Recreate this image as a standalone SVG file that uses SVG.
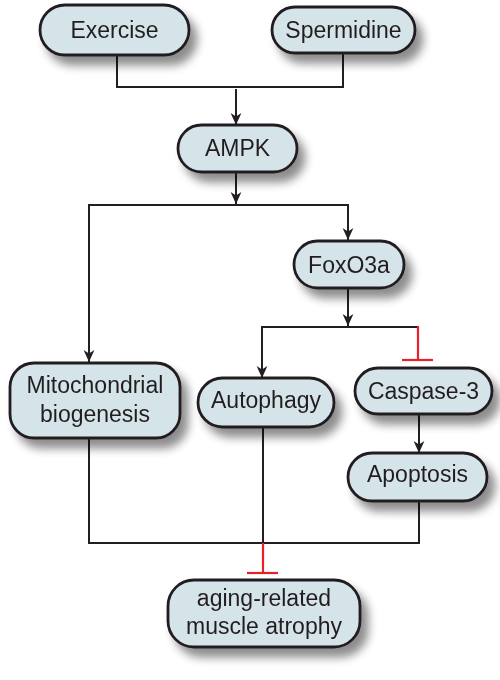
<svg xmlns="http://www.w3.org/2000/svg" width="500" height="680" viewBox="0 0 500 680">
<defs>
<filter id="sh" x="-20%" y="-30%" width="150%" height="180%">
<feGaussianBlur in="SourceAlpha" stdDeviation="5"/>
<feOffset dx="7" dy="9" result="b"/>
<feComponentTransfer><feFuncA type="linear" slope="0.45"/></feComponentTransfer>
<feMerge><feMergeNode/><feMergeNode in="SourceGraphic"/></feMerge>
</filter>
<marker id="arr" markerUnits="userSpaceOnUse" markerWidth="12" markerHeight="12" refX="10" refY="5" orient="auto" viewBox="0 0 10 10">
<path d="M0,0.5 L10,5 L0,9.5 L3,5 z" fill="#231f20"/>
</marker>
</defs>
<style>
.box{fill:#d5e4e9;stroke:#231f20;stroke-width:2.8}
.t{font-family:"Liberation Sans",Arial,sans-serif;font-size:23px;fill:#231f20;text-anchor:middle}
.c{fill:none;stroke:#231f20;stroke-width:2}
.r{fill:none;stroke:#e8202a;stroke-width:2.2}
</style>
<rect width="500" height="680" fill="#fff"/>
<g id="connectors">
<polyline class="c" points="117,55 117,87 343,87 343,53"/>
<line class="c" x1="236" y1="89" x2="236" y2="125" marker-end="url(#arr)"/>
<line class="c" x1="236" y1="172" x2="236" y2="204" marker-end="url(#arr)"/>
<polyline class="c" points="89,362 89,205 348,205 348,240" marker-end="url(#arr)"/>
<line class="c" x1="89" y1="205" x2="89" y2="362" marker-end="url(#arr)"/>
<line class="c" x1="348" y1="288" x2="348" y2="326" marker-end="url(#arr)"/>
<polyline class="c" points="418,327 262,327 262,378" marker-end="url(#arr)"/>
<line class="r" x1="418" y1="326" x2="418" y2="360"/>
<line class="r" x1="402" y1="360" x2="433" y2="360"/>
<line class="c" x1="419" y1="414" x2="419" y2="453" marker-end="url(#arr)"/>
<polyline class="c" points="89,438 89,543 419,543 419,501"/>
<line class="c" x1="263" y1="427" x2="263" y2="543"/>
<line class="r" x1="263" y1="543" x2="263" y2="573"/>
<line class="r" x1="247" y1="573" x2="278" y2="573"/>
</g>
<g id="exercise" filter="url(#sh)">
<rect class="box" x="40" y="5" width="149" height="50" rx="25"/>
<text class="t" x="114.5" y="38">Exercise</text>
</g>
<g id="spermidine" filter="url(#sh)">
<rect class="box" x="272" y="7" width="143" height="46" rx="23"/>
<text class="t" x="343.5" y="38">Spermidine</text>
</g>
<g id="ampk" filter="url(#sh)">
<rect class="box" x="178" y="125" width="119" height="47" rx="23.5"/>
<text class="t" x="237.5" y="156">AMPK</text>
</g>
<g id="foxo3a" filter="url(#sh)">
<rect class="box" x="294" y="241" width="110" height="47" rx="23.5"/>
<text class="t" x="349" y="273">FoxO3a</text>
</g>
<g id="mito" filter="url(#sh)">
<rect class="box" x="10" y="363" width="170" height="75" rx="24"/>
<text class="t" x="95" y="393">Mitochondrial</text>
<text class="t" x="95" y="422">biogenesis</text>
</g>
<g id="autophagy" filter="url(#sh)">
<rect class="box" x="198" y="378" width="136" height="49" rx="24.5"/>
<text class="t" x="266" y="408">Autophagy</text>
</g>
<g id="caspase3" filter="url(#sh)">
<rect class="box" x="355" y="368" width="137" height="46" rx="23"/>
<text class="t" x="423.5" y="399">Caspase-3</text>
</g>
<g id="apoptosis" filter="url(#sh)">
<rect class="box" x="348" y="453" width="139" height="48" rx="24"/>
<text class="t" x="417.5" y="482">Apoptosis</text>
</g>
<g id="atrophy" filter="url(#sh)">
<rect class="box" x="168" y="580" width="192" height="67" rx="26"/>
<text class="t" x="264" y="606">aging-related</text>
<text class="t" x="264" y="634">muscle atrophy</text>
</g>
</svg>
